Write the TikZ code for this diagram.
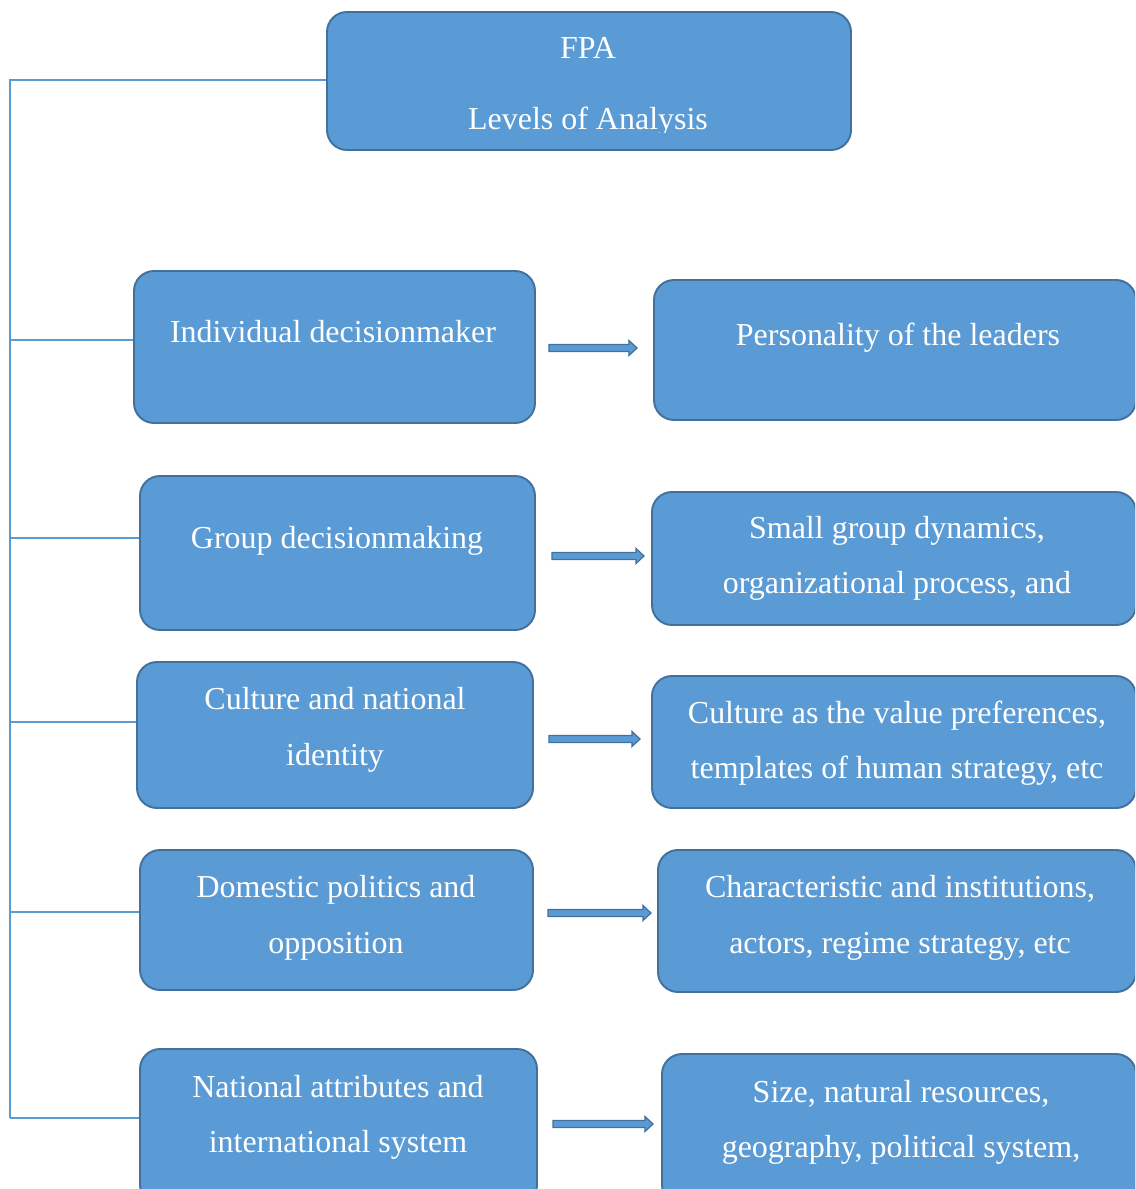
\documentclass[tikz,border=0pt]{standalone}
\usepackage{fontspec}
\setmainfont{Liberation Serif}
\usetikzlibrary{calc,fit}
\definecolor{boxfill}{HTML}{5B9BD5}
\definecolor{boxline}{HTML}{41719C}
\definecolor{connline}{HTML}{5B9BD5}
\tikzset{
  box/.style={draw=boxline, fill=boxfill, line width=1.1pt, rounded corners=0.4cm, inner sep=0pt},
  txt/.style={text=white, font=\fontsize{18.2}{31.9}\selectfont, inner sep=0pt, anchor=base},
  conn/.style={draw=connline, line width=0.75pt},
  blockarrow/.style={draw=boxline, fill=boxfill, line width=0.7pt, line join=miter,
    to path={($(\tikztostart)+(0,-3.5)$) -- ($(\tikztotarget)+(-8,-3.5)$) -- ($(\tikztotarget)+(-8,-7.5)$) -- (\tikztotarget) -- ($(\tikztotarget)+(-8,7.5)$) -- ($(\tikztotarget)+(-8,3.5)$) -- ($(\tikztostart)+(0,3.5)$) -- cycle}}
}
\begin{document}
\begin{tikzpicture}[x=0.02cm,y=-0.02cm]
\useasboundingbox (0,0) rectangle (1135,1189);
\clip (0,0) rectangle (1135,1189);
% boxes
\node[box, fit={(327,12) (851,150)}] (T) {};
\node[box, fit={(134,271) (535,423)}] (L1) {};
\node[box, fit={(140,476) (535,630)}] (L2) {};
\node[box, fit={(137,662) (533,808)}] (L3) {};
\node[box, fit={(140,850) (533,990)}] (L4) {};
\node[box, fit={(140,1049) (537,1205)}] (L5) {};
\node[box, fit={(654,280) (1136,420)}] (R1) {};
\node[box, fit={(652,492) (1136,625)}] (R2) {};
\node[box, fit={(652,676) (1136,808)}] (R3) {};
\node[box, fit={(658,850) (1136,992)}] (R4) {};
\node[box, fit={(662,1054) (1136,1205)}] (R5) {};
% texts
\node[txt] (tT1) at (588,59) {FPA};
\begin{scope}
\clip (327,12) rectangle (851,133);
\node[txt] (tT2) at (588,130) {Levels of Analysis};
\end{scope}
\node[txt] (tL1) at (333,342) {Individual decisionmaker};
\node[txt] (tL2) at (337,548) {Group decisionmaking};
\node[txt] (tL3a) at (335,709) {Culture and national};
\node[txt] (tL3b) at (335,765) {identity};
\node[txt] (tL4a) at (336,897) {Domestic politics and};
\node[txt] (tL4b) at (336,953) {opposition};
\node[txt] (tL5a) at (338,1097) {National attributes and};
\node[txt] (tL5b) at (338,1152) {international system};
\node[txt] (tR1) at (898,345) {Personality of the leaders};
\node[txt] (tR2a) at (897,538) {Small group dynamics,};
\node[txt] (tR2b) at (897,593) {organizational process, and};
\node[txt] (tR3a) at (897,723) {Culture as the value preferences,};
\node[txt] (tR3b) at (897,778) {templates of human strategy, etc};
\node[txt] (tR4a) at (900,897) {Characteristic and institutions,};
\node[txt] (tR4b) at (900,953) {actors, regime strategy, etc};
\node[txt] (tR5a) at (901,1102) {Size, natural resources,};
\node[txt] (tR5b) at (901,1157) {geography, political system,};
% tree connectors
\coordinate (b1) at (10,340);
\coordinate (b2) at (10,538);
\coordinate (b3) at (10,722);
\coordinate (b4) at (10,912);
\coordinate (b5) at (10,1118);
\draw[conn] (T.west |- 0,80) -| (b5);
\draw[conn] (b1) -- (L1.west |- b1);
\draw[conn] (b2) -- (L2.west |- b2);
\draw[conn] (b3) -- (L3.west |- b3);
\draw[conn] (b4) -- (L4.west |- b4);
\draw[conn] (b5) -- (L5.west |- b5);
% block arrows
\coordinate (a1s) at (549,348);  \coordinate (a1e) at (637,348);
\coordinate (a2s) at (552,556);  \coordinate (a2e) at (644,556);
\coordinate (a3s) at (549,739);  \coordinate (a3e) at (640,739);
\coordinate (a4s) at (548,913);  \coordinate (a4e) at (651,913);
\coordinate (a5s) at (553,1124); \coordinate (a5e) at (653,1124);
\draw[blockarrow] (a1s) to (a1e);
\draw[blockarrow] (a2s) to (a2e);
\draw[blockarrow] (a3s) to (a3e);
\draw[blockarrow] (a4s) to (a4e);
\draw[blockarrow] (a5s) to (a5e);
\end{tikzpicture}
\end{document}
